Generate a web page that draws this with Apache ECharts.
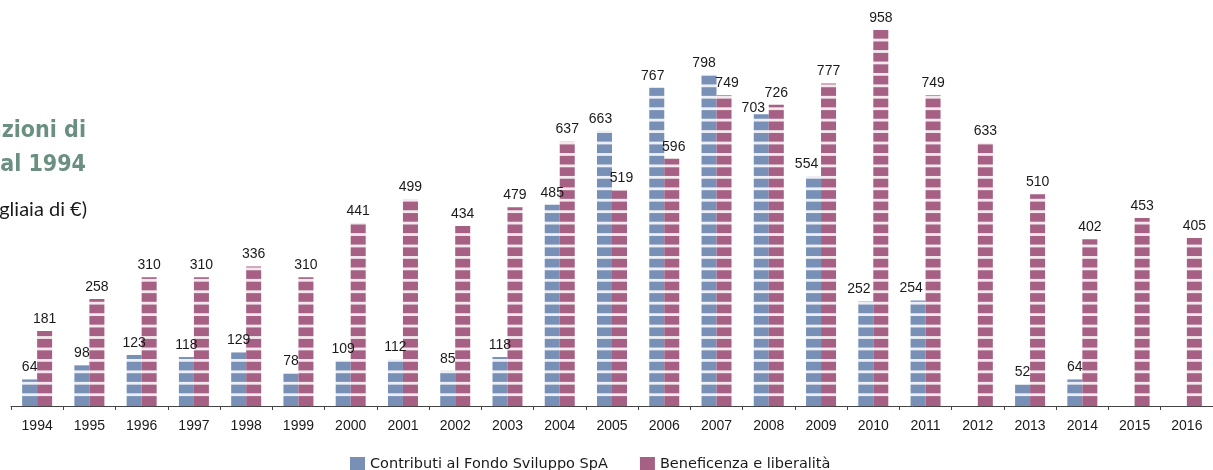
<!DOCTYPE html>
<html>
<head>
<meta charset="utf-8">
<title>Erogazioni dal 1994</title>
<script src="https://cdn.jsdelivr.net/npm/echarts@6/dist/echarts.min.js"></script>
<style>
  html, body { margin: 0; padding: 0; background: #ffffff; }
  #chart { width: 1213px; height: 470px; }
</style>
</head>
<body>
<div id="chart"></div>
<script>
// Years on the category axis
const years = ['1994','1995','1996','1997','1998','1999','2000','2001','2002','2003','2004','2005',
               '2006','2007','2008','2009','2010','2011','2012','2013','2014','2015','2016'];

// Contributi al Fondo Sviluppo SpA (migliaia di €); null = no contribution that year
const contributi = [64, 98, 123, 118, 129, 78, 109, 112, 85, 118, 485, 663,
                    767, 798, 703, 554, 252, 254, null, 52, 64, null, null];

// Beneficenza e liberalità (migliaia di €)
const beneficenza = [181, 258, 310, 310, 336, 310, 441, 499, 434, 479, 637, 519,
                     596, 749, 726, 777, 958, 749, 633, 510, 402, 453, 405];

const seriesNames = ['Contributi al Fondo Sviluppo SpA', 'Beneficenza e liberalità'];

// ---- styling ----
const BLUE = '#7890b6';
const PINK = '#a56083';
const BASELINE = 406;      // pixel row of the category axis
const STRIPE_STEP = 11.44; // spacing of the white bands across the bars
const STRIPE_GAP = 2.8;
const ARIAL = '"Liberation Sans", Arial, sans-serif';

// Banded fill: a full-height tile so the white bands sit at the same rows on every bar
function bandedFill(color) {
  const c = document.createElement('canvas');
  c.width = 8;
  c.height = 470;
  const g = c.getContext('2d');
  g.fillStyle = color;
  g.fillRect(0, 0, c.width, c.height);
  g.fillStyle = 'rgba(255,255,255,0.86)';
  for (let y = BASELINE - 11.3; y > -STRIPE_STEP; y -= STRIPE_STEP) {
    g.fillRect(0, y - STRIPE_GAP / 2, c.width, STRIPE_GAP);
  }
  return { image: c, repeat: 'repeat' };
}

// small nudges for a few crowded value labels
const blueLabelShift = { '2005': [-4, 0], '2006': [-4, 0], '2007': [-5, 0], '2008': [-8, 6],
                         '2009': [-7, 0], '2010': [-7, 0], '2011': [-7, 0] };
const pinkLabelShift = { '2005': [2, 0], '2006': [2, 0], '2007': [3, 0] };

function withShift(values, shifts) {
  return values.map((v, i) => {
    const s = shifts[years[i]];
    return s ? { value: v, label: { offset: s } } : v;
  });
}

const labelStyle = {
  show: true,
  position: 'top',
  distance: 5,
  color: '#1a1a1a',
  fontFamily: ARIAL,
  fontSize: 14
};

const chart = echarts.init(document.getElementById('chart'), null, { renderer: 'canvas' });

chart.setOption({
  animation: false,
  backgroundColor: '#ffffff',
  grid: { left: 11, top: 30, width: 1208, bottom: 64, containLabel: false },
  legend: {
    left: 345,
    top: 452,
    itemWidth: 15,
    itemHeight: 15,
    itemGap: 32,
    icon: 'rect',
    textStyle: { fontFamily: '"DejaVu Sans", sans-serif', fontSize: 14.5, color: '#1a1a1a' },
    data: [
      { name: seriesNames[0], itemStyle: { color: BLUE } },
      { name: seriesNames[1], itemStyle: { color: PINK } }
    ]
  },
  xAxis: {
    type: 'category',
    data: years,
    axisLine: { lineStyle: { color: '#444444', width: 1 } },
    axisTick: { show: true, length: 4, lineStyle: { color: '#444444' } },
    axisLabel: { color: '#1a1a1a', fontFamily: ARIAL, fontSize: 14, margin: 13 }
  },
  yAxis: {
    type: 'value',
    min: 0,
    max: 906,
    show: false,
    splitLine: { show: false }
  },
  series: [
    {
      name: seriesNames[0],
      type: 'bar',
      barWidth: 15,
      barGap: '0%',
      clip: true,
      itemStyle: { color: bandedFill(BLUE) },
      label: labelStyle,
      data: withShift(contributi, blueLabelShift)
    },
    {
      name: seriesNames[1],
      type: 'bar',
      barWidth: 15,
      barGap: '0%',
      clip: true,
      itemStyle: { color: bandedFill(PINK) },
      label: labelStyle,
      data: withShift(beneficenza, pinkLabelShift)
    }
  ],
  graphic: [
    {
      type: 'text',
      right: 1213 - 86,
      top: 120,
      style: {
        text: 'Evoluzione delle erogazioni di',
        fill: '#6b8f80',
        font: 'bold 23px "DejaVu Sans Condensed", "DejaVu Sans", sans-serif',
        textAlign: 'right'
      }
    },
    {
      type: 'text',
      right: 1213 - 86,
      top: 154,
      style: {
        text: 'beneficenza e liberalità dal 1994',
        fill: '#6b8f80',
        font: 'bold 23px "DejaVu Sans Condensed", "DejaVu Sans", sans-serif',
        textAlign: 'right'
      }
    },
    {
      type: 'text',
      right: 1213 - 87,
      top: 200,
      style: {
        text: '(in migliaia di €)',
        fill: '#1a1a1a',
        font: '20px Lato, "Open Sans", sans-serif',
        textAlign: 'right'
      }
    }
  ]
});
</script>
</body>
</html>
